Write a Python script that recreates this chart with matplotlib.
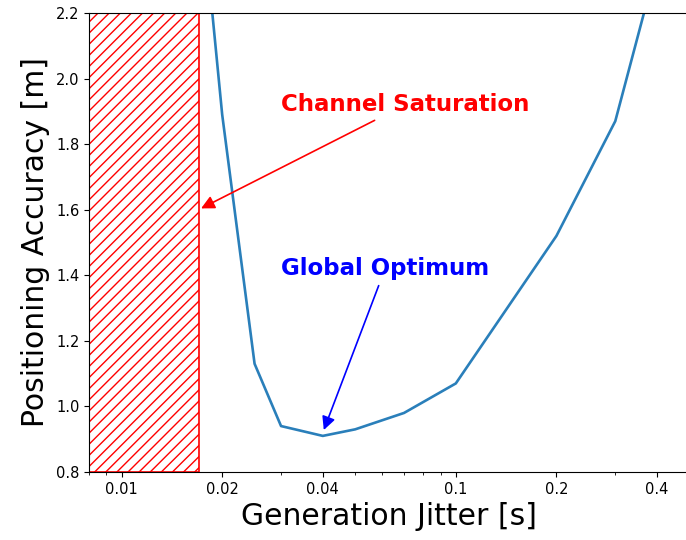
import numpy as np
import matplotlib
matplotlib.use('Agg')
import matplotlib.pyplot as plt

# jitter [s] vs positioning accuracy [m]
jitter = [0.015, 0.02, 0.025, 0.03, 0.04, 0.05, 0.07, 0.1, 0.2, 0.3, 0.4]
accuracy = [3.2, 1.89, 1.13, 0.94, 0.91, 0.93, 0.98, 1.07, 1.52, 1.87, 2.35]

sat_start = 0.008
sat_end = 0.017
xticks = [0.01, 0.02, 0.04, 0.1, 0.2, 0.4]
xtick_labels = ['0.01', '0.02', '0.04', '0.1', '0.2', '0.4']

fig = plt.figure(figsize=(6.86, 5.4), dpi=100)
ax = fig.add_axes([0.13, 0.126, 0.875, 0.85])

ax.axvspan(sat_start, sat_end, fill=False, hatch='///', edgecolor='red', linewidth=1.2)
ax.plot(jitter, accuracy, color='#2a7fba', linewidth=1.9)

ax.set_xscale('log')
ax.set_xlim(0.008, 0.5)
ax.set_ylim(0.8, 2.2)
ax.set_xticks(xticks)
ax.set_xticklabels(xtick_labels)
ax.tick_params(labelsize=10.5)

ax.annotate('Channel Saturation', xy=(sat_end, 1.6), xytext=(0.03, 1.9),
            color='red', fontsize=16.5, fontweight='bold',
            arrowprops=dict(arrowstyle='-|>', color='red', lw=1.2, mutation_scale=20))
ax.annotate('Global Optimum', xy=(0.04, 0.92), xytext=(0.03, 1.4),
            color='blue', fontsize=16.5, fontweight='bold',
            arrowprops=dict(arrowstyle='-|>', color='blue', lw=1.2, mutation_scale=20))

ax.set_xlabel('Generation Jitter [s]', fontsize=21.5)
ax.set_ylabel('Positioning Accuracy [m]', fontsize=21.5)

fig.savefig('out.png', dpi=100)
